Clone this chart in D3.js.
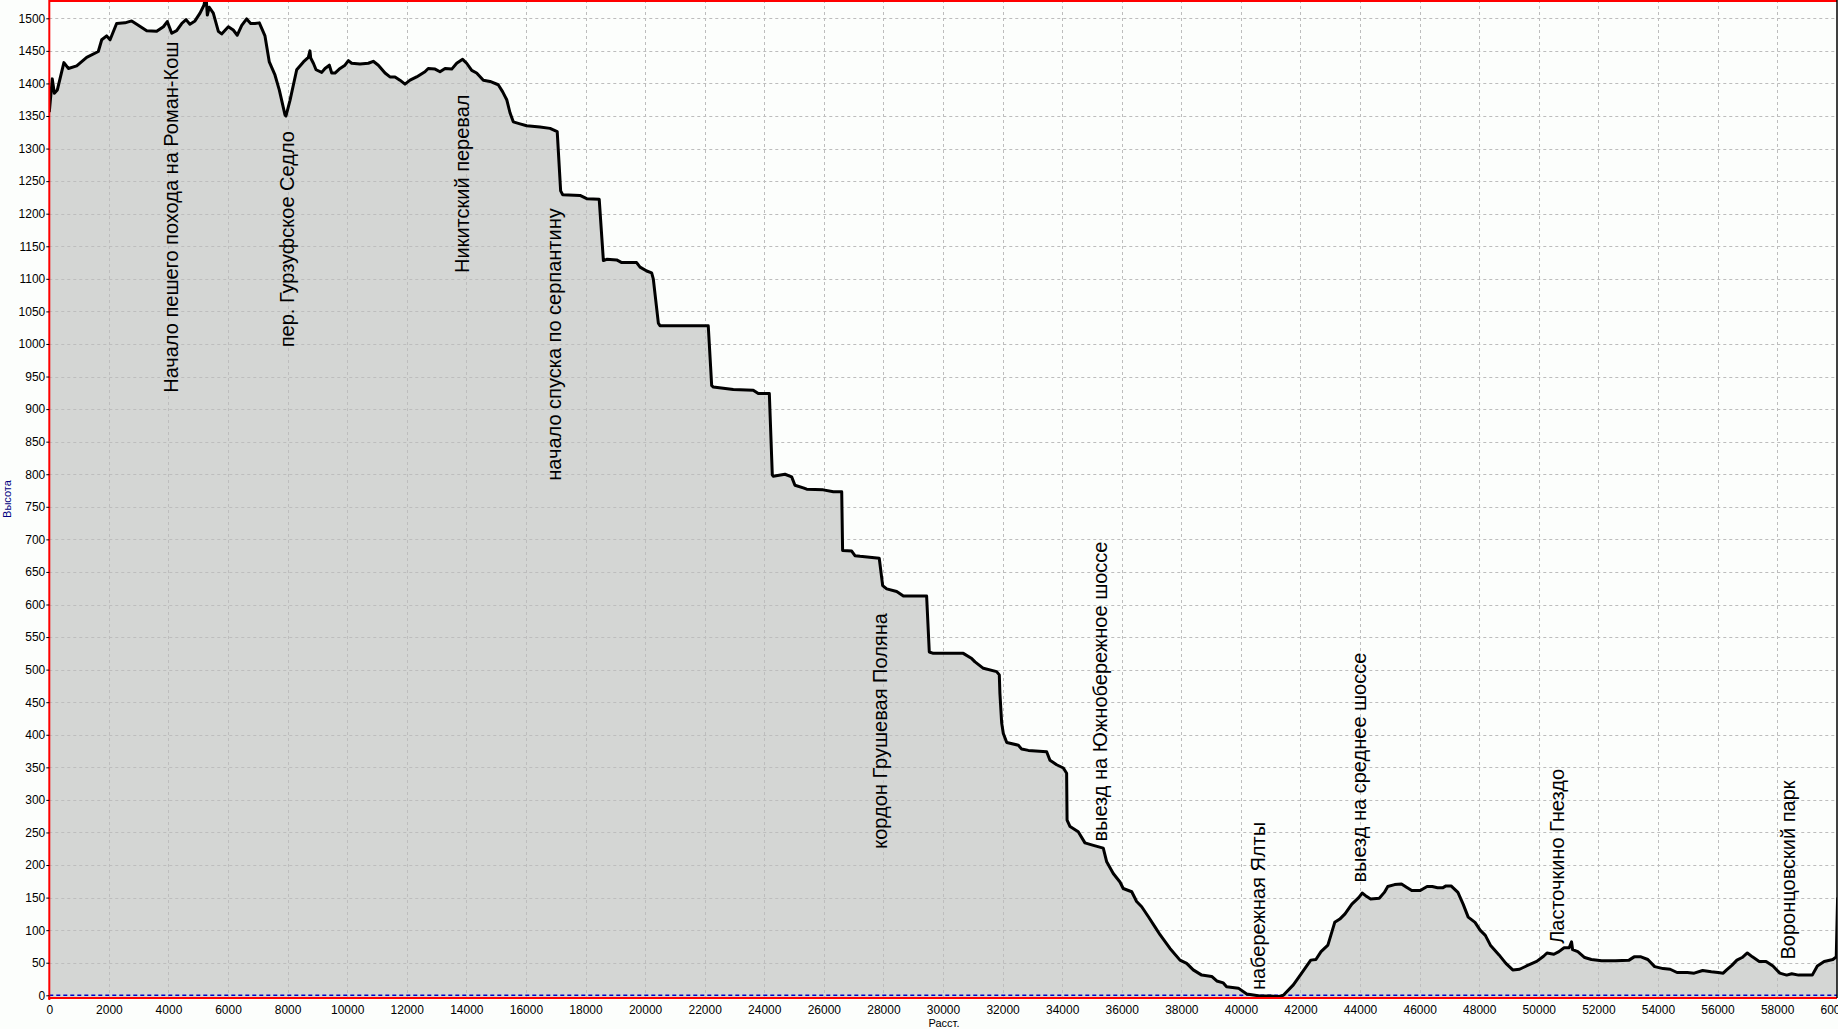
<!DOCTYPE html>
<html><head><meta charset="utf-8">
<script src="https://cdn.jsdelivr.net/npm/d3@7"></script>
<style>html,body{margin:0;padding:0;background:#fcfefc;overflow:hidden}</style>
</head><body><svg id="chart" width="1838" height="1029"></svg>
<script>
// ---- data ----
const distances = [0,100,170,270,490,640,920,1255,1645,1760,1925,2040,2260,2540,2765,2935,3270,3605,3830,3960,4110,4275,4445,4590,4720,4890,5060,5190,5260,5305,5370,5505,5675,5785,6010,6175,6310,6460,6625,6760,6905,7050,7240,7385,7575,7720,7910,7945,8080,8305,8530,8695,8750,8775,8865,8955,9145,9255,9400,9480,9590,9760,9925,10040,10150,10430,10710,10875,11045,11270,11435,11605,11770,11940,12110,12330,12610,12720,12950,13115,13285,13510,13675,13875,14010,14180,14345,14570,14795,15070,15220,15355,15465,15575,15800,16025,16470,16810,17050,17165,17235,17815,18040,18460,18600,18710,19045,19215,19715,19830,20055,20220,20275,20445,20500,22120,22235,22290,22960,23630,23800,24170,24270,24300,24695,24920,25030,25310,25425,25980,26320,26600,26630,26935,27045,27215,27860,27975,28110,28445,28670,29450,29540,29675,30680,30965,31075,31355,31800,31890,31910,31970,32025,32140,32530,32640,32865,33480,33590,33815,34040,34150,34165,34265,34540,34765,34990,35380,35495,35715,35940,36050,36335,36500,36670,36890,37115,37285,37620,37955,38180,38400,38685,39020,39190,39410,39520,39915,40195,40640,40975,41255,41425,41760,42040,42345,42517,42690,42920,43150,43320,43495,43725,43955,44070,44185,44355,44645,44815,44930,45160,45390,45560,45735,46020,46250,46425,46600,46770,46885,47055,47285,47460,47630,47860,48030,48205,48375,48665,48895,49125,49355,49585,49930,50160,50275,50505,50675,50850,51020,51100,51135,51310,51540,51765,52110,52570,53030,53200,53430,53660,53890,54175,54410,54640,54985,55215,55500,55790,56020,56190,56305,56480,56650,56825,57000,57170,57400,57630,57860,58090,58320,58490,58720,58950,59180,59350,59580,59870,59985,60030];
const elevations = [1356,1407,1385,1390,1432,1423,1427,1440,1449,1467,1473,1467,1492,1493,1496,1491,1481,1480,1487,1495,1477,1481,1492,1498,1491,1496,1508,1520,1535,1505,1517,1508,1480,1476,1487,1482,1474,1489,1499,1492,1492,1493,1473,1433,1413,1390,1352,1350,1374,1421,1433,1440,1450,1439,1431,1421,1417,1423,1428,1416,1416,1423,1428,1435,1431,1430,1431,1434,1428,1416,1410,1410,1405,1399,1405,1410,1418,1423,1422,1418,1423,1422,1431,1437,1431,1420,1416,1405,1403,1398,1387,1375,1355,1341,1338,1335,1333,1331,1326,1235,1229,1228,1223,1222,1128,1130,1129,1125,1125,1118,1112,1109,1100,1032,1028,1028,936,934,930,929,924,924,799,797,800,796,783,779,777,776,773,773,683,682,675,674,671,629,624,620,613,613,527,525,525,517,512,502,497,492,464,418,402,388,384,378,376,374,361,354,349,341,269,259,251,234,231,226,205,187,174,164,159,144,136,121,105,93,72,54,49,39,31,29,22,19,13,11,2,-1,-1,-2,0,16,34,54,55,67,77,112,117,125,140,150,157,153,148,149,158,167,170,171,166,161,161,167,167,165,165,168,168,158,140,120,112,100,92,77,62,49,39,40,45,52,60,65,63,67,73,73,82,70,67,58,55,53,53,54,59,59,55,44,41,40,35,35,34,38,36,35,34,39,46,54,58,65,59,52,52,45,34,31,33,31,31,31,45,52,55,59,150];

const xTicks = d3.range(0, 60001, 2000);
const yTicks = d3.range(0, 1501, 50);

const labelNames = ["Начало пешего похода на Роман-Кош","пер. Гурзуфское Седло","Никитский перевал","начало спуска по серпантину","кордон Грушевая Поляна","выезд на Южнобережное шоссе","набережная Ялты","выезд на среднее шоссе","Ласточкино Гнездо","Воронцовский парк"];
const labelDist = [4337, 8215, 14090, 17175, 28120, 35495, 40810, 44200, 50845, 58600];
const labelElev = [925, 995, 1109, 790, 225, 236, 8, 173, 79, 55];

const xTitle = "Расст.";
const yTitle = "Высота";

// ---- layout ----
const W = 1838, H = 1029;
const plotL = 49.3, plotR = 1837, plotT = 0, plotB = 998;
const x = d3.scaleLinear().domain([0, 60000]).range([49.3, 1836.7]);
const y = d3.scaleLinear().domain([0, 1500]).range([995.3, 18.3]);

const svg = d3.select("#chart");
svg.append("rect").attr("width", W).attr("height", H).attr("fill", "#fcfefc");

svg.append("defs").append("clipPath").attr("id", "plotClip")
  .append("rect").attr("x", plotL).attr("y", plotT).attr("width", plotR - plotL).attr("height", plotB - plotT);

const data = distances.map((d, i) => [d, elevations[i]]);
const plot = svg.append("g").attr("clip-path", "url(#plotClip)");

const area = d3.area().x(d => x(d[0])).y0(plotB).y1(d => y(d[1]));
plot.append("path").datum(data).attr("d", area).attr("fill", "#d4d6d4");

// grid
const grid = plot.append("g").attr("stroke", "#bdbdbd").attr("stroke-width", 1).attr("stroke-dasharray", "3,3");
grid.selectAll("line.v").data(xTicks.filter(t => t > 0)).join("line")
  .attr("x1", d => Math.round(x(d)) + 0.5).attr("x2", d => Math.round(x(d)) + 0.5)
  .attr("y1", plotT).attr("y2", plotB);
grid.selectAll("line.h").data(yTicks.filter(t => t > 0)).join("line")
  .attr("x1", plotL).attr("x2", plotR)
  .attr("y1", d => Math.round(y(d)) + 0.5).attr("y2", d => Math.round(y(d)) + 0.5);

// zero line
plot.append("line").attr("x1", plotL).attr("x2", plotR)
  .attr("y1", y(0)).attr("y2", y(0))
  .attr("stroke", "#0000c8").attr("stroke-width", 1.5).attr("stroke-dasharray", "4,3");

// profile
const line = d3.line().x(d => x(d[0])).y(d => y(d[1]));
plot.append("path").datum(data).attr("d", line)
  .attr("fill", "none").attr("stroke", "#000").attr("stroke-width", 3).attr("stroke-linejoin", "round");

// frame
svg.append("line").attr("x1", plotL).attr("x2", plotR).attr("y1", 1).attr("y2", 1).attr("stroke", "#ff0000").attr("stroke-width", 2);
svg.append("line").attr("x1", plotL - 1).attr("x2", plotR).attr("y1", plotB).attr("y2", plotB).attr("stroke", "#ff0000").attr("stroke-width", 2);
svg.append("line").attr("x1", plotL).attr("x2", plotL).attr("y1", 0).attr("y2", plotB + 2).attr("stroke", "#ff0000").attr("stroke-width", 2);
svg.append("line").attr("x1", plotR).attr("x2", plotR).attr("y1", 0).attr("y2", plotB).attr("stroke", "#000").attr("stroke-width", 1.5);

// axes
const fontTick = "'Liberation Sans', Arial, sans-serif";
const yAxis = svg.append("g").attr("transform", `translate(${plotL},0)`)
  .call(d3.axisLeft(y).tickValues(yTicks).tickSize(3).tickPadding(1).tickFormat(d3.format("d")));
yAxis.select(".domain").remove();
yAxis.selectAll("line").attr("stroke", "#000");
yAxis.selectAll("text").attr("font-family", fontTick).attr("font-size", 12).attr("fill", "#000");

const xAxis = svg.append("g").attr("transform", `translate(0,${plotB})`)
  .call(d3.axisBottom(x).tickValues(xTicks).tickSize(0).tickPadding(7).tickFormat(d3.format("d")));
xAxis.select(".domain").remove();
xAxis.selectAll("text").attr("font-family", fontTick).attr("font-size", 12).attr("fill", "#000");

svg.append("text").attr("x", 944).attr("y", 1027).attr("text-anchor", "middle")
  .attr("font-family", fontTick).attr("font-size", 11).attr("fill", "#000").text(xTitle);
svg.append("text").attr("transform", "translate(10.5,499) rotate(-90)").attr("text-anchor", "middle")
  .attr("font-family", fontTick).attr("font-size", 11).attr("fill", "#000080").text(yTitle);

// annotations
svg.append("g").selectAll("text").data(labelNames).join("text")
  .attr("transform", (d, i) => `translate(${x(labelDist[i])},${y(labelElev[i])}) rotate(-90)`)
  .attr("font-family", fontTick).attr("font-size", 20).attr("fill", "#000")
  .text(d => d);
</script></body></html>
